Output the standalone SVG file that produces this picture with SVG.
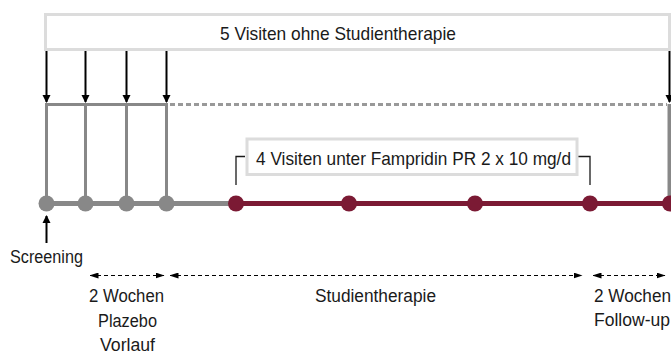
<svg xmlns="http://www.w3.org/2000/svg" width="671" height="354" viewBox="0 0 671 354">
<defs>
<style>
text{font-family:"Liberation Sans",Arial,sans-serif;fill:#1a1a1a}
.lbl{font-size:17.5px}
.box{fill:#fff;stroke:#dcdcdc;stroke-width:3}
.varrow{stroke:#000;stroke-width:2;fill:none}
.gray{stroke:#888;stroke-width:3;fill:none}
.axisg{stroke:#888;stroke-width:5}
.axisr{stroke:#7b1a34;stroke-width:5}
.dg{fill:#888}
.dr{fill:#7b1a34}
.brk{stroke:#1a1a1a;stroke-width:1.3;fill:none}
.dash{stroke:#000;stroke-width:1.2;stroke-dasharray:4 3;fill:none}
</style>
<marker id="ah" markerWidth="8" markerHeight="10" refX="7" refY="5" orient="auto" markerUnits="userSpaceOnUse">
<path d="M0,1 L8,5 L0,9 Z" fill="#000"/>
</marker>
<marker id="sh" markerWidth="9" markerHeight="6" refX="8.5" refY="3" orient="auto-start-reverse" markerUnits="userSpaceOnUse">
<path d="M0,0 L9,3 L0,6 Z" fill="#000"/>
</marker>
</defs>
<g id="visits-box">
<rect class="box" x="45.5" y="14.5" width="624" height="35"/>
<text x="338" y="39.5" text-anchor="middle" style="font-size:19px" textLength="236" lengthAdjust="spacingAndGlyphs">5 Visiten ohne Studientherapie</text>
</g>
<g id="connectors">
<line class="varrow" x1="46.5" y1="51" x2="46.5" y2="102" marker-end="url(#ah)"/>
<line class="varrow" x1="85.5" y1="51" x2="85.5" y2="102" marker-end="url(#ah)"/>
<line class="varrow" x1="126.5" y1="51" x2="126.5" y2="102" marker-end="url(#ah)"/>
<line class="varrow" x1="166.5" y1="51" x2="166.5" y2="102" marker-end="url(#ah)"/>
<line class="varrow" x1="669.5" y1="51" x2="669.5" y2="102" marker-end="url(#ah)"/>
<polyline class="gray" points="46.5,203 46.5,104.5 166.5,104.5 166.5,203"/>
<line class="gray" x1="85.5" y1="104.5" x2="85.5" y2="203"/>
<line class="gray" x1="126.5" y1="104.5" x2="126.5" y2="203"/>
<line stroke="#999" stroke-width="3" stroke-dasharray="5 3" x1="170" y1="104.5" x2="667" y2="104.5"/>
<line stroke="#888" stroke-width="4" x1="669.5" y1="104" x2="669.5" y2="203"/>
<line class="axisg" x1="46" y1="203.5" x2="236" y2="203.5"/>
<line class="axisr" x1="236" y1="203.5" x2="671" y2="203.5"/>
<polyline class="brk" points="236,185 236,156.5 245,156.5"/>
<polyline class="brk" points="578,156.5 590,156.5 590,185"/>
<line class="varrow" x1="46.5" y1="243" x2="46.5" y2="216" marker-end="url(#ah)"/>
<line class="dash" x1="90" y1="275.5" x2="164" y2="275.5" marker-start="url(#sh)" marker-end="url(#sh)"/>
<line class="dash" x1="170" y1="275.5" x2="582" y2="275.5" marker-start="url(#sh)" marker-end="url(#sh)"/>
<line class="dash" x1="593" y1="275.5" x2="665" y2="275.5" marker-start="url(#sh)" marker-end="url(#sh)"/>
</g>
<g id="screening-visits">
<circle class="dg" cx="46.5" cy="203.5" r="8"/>
<circle class="dg" cx="85.5" cy="203.5" r="8"/>
<circle class="dg" cx="126.5" cy="203.5" r="8"/>
<circle class="dg" cx="166.5" cy="203.5" r="8"/>
</g>
<g id="therapy-visits">
<circle class="dr" cx="236" cy="203.5" r="8"/>
<circle class="dr" cx="349" cy="203.5" r="8"/>
<circle class="dr" cx="475" cy="203.5" r="8"/>
<circle class="dr" cx="590" cy="203.5" r="8"/>
<circle class="dr" cx="670" cy="203.5" r="8"/>
</g>
<g id="therapy-box">
<rect class="box" x="247" y="139" width="330" height="35.5"/>
<text x="256" y="164.5" style="font-size:19px" textLength="315" lengthAdjust="spacingAndGlyphs">4 Visiten unter Fampridin PR 2 x 10 mg/d</text>
</g>
<g id="labels">
<text class="lbl" x="10" y="262.5" textLength="73" lengthAdjust="spacingAndGlyphs">Screening</text>
<text class="lbl" x="126.5" y="302" text-anchor="middle" textLength="75" lengthAdjust="spacingAndGlyphs">2 Wochen</text>
<text class="lbl" x="127.5" y="326.5" text-anchor="middle" textLength="59" lengthAdjust="spacingAndGlyphs">Plazebo</text>
<text class="lbl" x="127.5" y="350.5" text-anchor="middle" textLength="55" lengthAdjust="spacingAndGlyphs">Vorlauf</text>
<text class="lbl" x="375.5" y="302" text-anchor="middle" textLength="121" lengthAdjust="spacingAndGlyphs">Studientherapie</text>
<text class="lbl" x="594" y="302" textLength="77" lengthAdjust="spacingAndGlyphs">2 Wochen</text>
<text class="lbl" x="594" y="326" textLength="76" lengthAdjust="spacingAndGlyphs">Follow-up</text>
</g>
</svg>
